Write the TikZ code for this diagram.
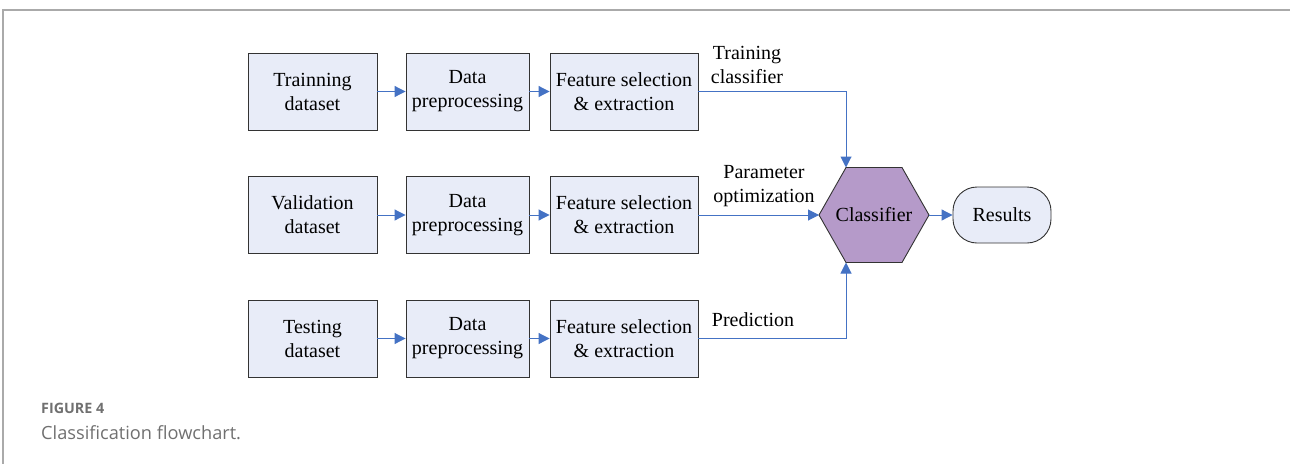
\documentclass[tikz,border=0pt]{standalone}
\usepackage{fontspec}
\setmainfont{Liberation Serif}
\newfontfamily\capfont{Open Sans}
\usetikzlibrary{arrows.meta}
\definecolor{boxfill}{HTML}{E8ECF8}
\definecolor{hexfill}{HTML}{B59AC9}
\definecolor{linkblue}{HTML}{4472C4}
\definecolor{framegray}{HTML}{AAAAAA}
\definecolor{capgray}{HTML}{707070}
\tikzset{
  stagebox/.style={draw=black!80, line width=0.9pt, fill=boxfill, align=center,
    minimum height=77pt, inner sep=0pt, font=\fontsize{20}{24}\selectfont},
  link/.style={draw=linkblue, line width=1pt, -{Triangle[length=11pt,width=11pt]}},
  lbl/.style={align=center, inner sep=0pt, font=\fontsize{20}{24}\selectfont},
}
\begin{document}
\begin{tikzpicture}[x=1pt,y=-1pt]
\useasboundingbox (0,0) rectangle (1290,464);
\draw[framegray, line width=1.2pt] (1290,10) -- (3,10) -- (3,464);

% row 1
\node[stagebox, minimum width=129pt] (a1) at (312.5,91.5) {Trainning\\dataset};
\node[stagebox, minimum width=123pt] (b1) at (467.5,91.5) {Data\\preprocessing};
\node[stagebox, minimum width=148pt] (c1) at (624,91.5) {Feature selection\\\& extraction};
% row 2
\node[stagebox, minimum width=129pt] (a2) at (312.5,215) {Validation\\dataset};
\node[stagebox, minimum width=123pt] (b2) at (467.5,215) {Data\\preprocessing};
\node[stagebox, minimum width=148pt] (c2) at (624,215) {Feature selection\\\& extraction};
% row 3
\node[stagebox, minimum width=129pt] (a3) at (312.5,338.5) {Testing\\dataset};
\node[stagebox, minimum width=123pt] (b3) at (467.5,338.5) {Data\\preprocessing};
\node[stagebox, minimum width=148pt] (c3) at (624,338.5) {Feature selection\\\& extraction};

% classifier hexagon
\draw[draw=black!80, line width=0.9pt, fill=hexfill]
  (819,215) -- (846,167.5) -- (902,167.5) -- (929,215) -- (902,262.5) -- (846,262.5) -- cycle;
\node[minimum width=110pt, minimum height=95pt, inner sep=0pt, outer sep=0pt,
  font=\fontsize{20}{24}\selectfont] (hex) at (874,215) {Classifier};
\node[draw=black!80, line width=0.9pt, fill=boxfill, rounded corners=24pt,
  minimum width=98pt, minimum height=56pt, inner sep=0pt,
  font=\fontsize{20}{24}\selectfont] (res) at (1002,215) {Results};

\coordinate (ht) at ([xshift=-28pt]hex.north);
\coordinate (hb) at ([xshift=-28pt]hex.south);

\foreach \r in {1,2,3}{
  \draw[link] (a\r) -- (b\r);
  \draw[link] (b\r) -- (c\r);
}
\draw[link] (c1.east) -| (ht);
\draw[link] (c2.east) -- (hex.west);
\draw[link] (c3.east) -| (hb);
\draw[link] (hex.east) -- (res.west);

\node[lbl] (l1) at (747,65) {Training\\classifier};
\node[lbl] (l2) at (764,186) {Parameter\\optimization};
\node[lbl] (l3) at (753,320) {Prediction};

\node[anchor=west, inner sep=0pt, text=capgray, font=\capfont\fontsize{14.3}{17}\selectfont\bfseries] (fig) at (41,408) {FIGURE 4};
\node[anchor=west, inner sep=0pt, text=capgray, font=\capfont\fontsize{18.2}{22}\selectfont] (cap) at (41,433) {Classification flowchart.};
\end{tikzpicture}
\end{document}
